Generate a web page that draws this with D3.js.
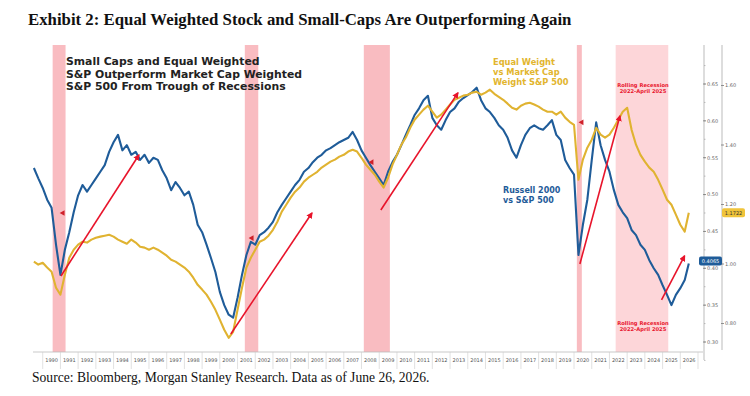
<!DOCTYPE html>
<html><head><meta charset="utf-8">
<script src="https://cdn.jsdelivr.net/npm/d3@7"></script>
<style>body{margin:0;background:#fff;} svg{display:block;}</style>
</head><body><svg id="c" width="750" height="396"></svg>
<script>
// ---- data: quarterly observations (decimal years), last point = June 26, 2026 ----
const quarterYears = d3.range(1989.5, 2026.3, 0.25).concat([2026.48]);
const russellVsSP = [
  0.536,0.522,
  0.509,0.493,0.482,0.432, 0.391,0.425,0.449,0.476, 0.499,0.513,0.504,0.513, 0.522,0.531,0.540,0.558,
  0.571,0.581,0.560,0.567, 0.554,0.558,0.547,0.554, 0.543,0.550,0.547,0.533, 0.522,0.506,0.517,0.509,
  0.499,0.504,0.486,0.459, 0.449,0.432,0.414,0.395, 0.368,0.350,0.337,0.333, 0.360,0.391,0.418,0.436,
  0.432,0.445,0.449,0.455, 0.463,0.476,0.486,0.495, 0.504,0.513,0.520,0.531, 0.536,0.544,0.550,0.554,
  0.560,0.563,0.567,0.571, 0.574,0.577,0.585,0.574, 0.560,0.550,0.540,0.531, 0.522,0.513,0.531,0.544,
  0.554,0.567,0.581,0.594, 0.608,0.617,0.628,0.634, 0.604,0.594,0.588,0.601, 0.612,0.617,0.626,0.631,
  0.635,0.639,0.645,0.628, 0.617,0.612,0.604,0.594, 0.588,0.577,0.560,0.550, 0.567,0.581,0.590,0.594,
  0.590,0.588,0.594,0.601, 0.581,0.574,0.547,0.536, 0.527,0.418,0.459,0.493, 0.547,0.598,0.567,0.547,
  0.531,0.506,0.486,0.476, 0.468,0.452,0.445,0.432, 0.425,0.411,0.400,0.391, 0.377,0.364,0.350,0.364,
  0.373,0.384,0.4065];
const equalVsCap = [
  1.008,0.998,
  1.004,0.988,0.974,0.920, 0.897,0.964,1.021,1.048, 1.065,1.075,1.072,1.082, 1.088,1.092,1.095,1.098,
  1.092,1.082,1.075,1.068, 1.082,1.072,1.058,1.055, 1.048,1.055,1.048,1.038, 1.028,1.014,1.008,0.998,
  0.988,0.974,0.954,0.930, 0.914,0.897,0.873,0.846, 0.813,0.779,0.752,0.772, 0.846,0.920,0.988,1.021,
  1.048,1.075,1.082,1.095, 1.115,1.142,1.176,1.199, 1.223,1.243,1.257,1.277, 1.290,1.300,1.310,1.324,
  1.334,1.344,1.351,1.361, 1.367,1.378,1.384,1.378, 1.357,1.334,1.317,1.300, 1.277,1.257,1.290,1.334,
  1.367,1.401,1.425,1.458, 1.485,1.502,1.519,1.532, 1.512,1.492,1.502,1.519, 1.536,1.552,1.559,1.566,
  1.569,1.576,1.579,1.569, 1.576,1.586,1.572,1.562, 1.552,1.539,1.525,1.519, 1.532,1.539,1.542,1.536,
  1.529,1.519,1.512,1.512, 1.502,1.512,1.492,1.478, 1.468,1.283,1.351,1.391, 1.418,1.458,1.435,1.425,
  1.435,1.458,1.485,1.512, 1.525,1.451,1.401,1.367, 1.344,1.324,1.310,1.283, 1.250,1.216,1.199,1.166,
  1.132,1.109,1.1722];
const recessionStart = [1990.56,2001.41,2008.13,2020.16,2022.35];
const recessionEnd   = [1991.29,2002.17,2009.60,2020.44,2025.32];
const yearLabels = d3.range(1990, 2027);
const leftTicks = [0.30,0.35,0.40,0.45,0.50,0.55,0.60,0.65];
const rightTicks = [0.80,1.00,1.20,1.40,1.60];
// arrows: start/end in (year, left-axis value)
const arrowStartYear = [1991.03,2000.62,2009.09,2020.33,2024.94];
const arrowStartVal  = [0.3896,0.3109,0.4790,0.4058,0.3570];
const arrowEndYear   = [1995.43,2005.20,2013.44,2022.59,2026.24];
const arrowEndVal    = [0.5537,0.4750,0.6379,0.6066,0.4167];
const markerYears = [1991.14,2001.81,2008.58,2020.44];
const markerVals  = [0.475,0.441,0.544,0.598];

const svg = d3.select('#c');
const dy = y => { const yr = Math.floor(y); const a = new Date(yr,0,1), b = new Date(yr+1,0,1); return new Date(+a + (y-yr)*(b-a)); };
const plotTop = 45, plotBottom = 352, plotLeft = 33, plotRight = 698;
const x = d3.scaleTime().domain([dy(1989.45), dy(2027)]).range([plotLeft, plotRight]);
const yL = d3.scaleLinear().domain([0.30,0.65]).range([342,84]);
const yR = d3.scaleLinear().domain([0.80,1.60]).range([323.5,85.5]);

// title + source
svg.append('text').attr('x',28).attr('y',25).attr('font-family','Liberation Serif').attr('font-weight','bold')
  .attr('font-size',16.8).attr('fill','#111').text('Exhibit 2: Equal Weighted Stock and Small-Caps Are Outperforming Again');
svg.append('text').attr('x',32).attr('y',382).attr('font-family','Liberation Serif')
  .attr('font-size',13.6).attr('fill','#111').text('Source: Bloomberg, Morgan Stanley Research. Data as of June 26, 2026.');

// recession bands
const g = svg.append('g');
recessionStart.forEach((s,i) => {
  g.append('rect').attr('x',x(dy(s))).attr('y',plotTop).attr('width',x(dy(recessionEnd[i]))-x(dy(s))).attr('height',plotBottom-plotTop)
    .attr('fill', i===4 ? '#fdd6d9' : '#f9bcc1');
});

// x axis
g.append('line').attr('x1',plotLeft).attr('x2',703).attr('y1',plotBottom).attr('y2',plotBottom).attr('stroke','#bbb').attr('stroke-width',0.8);
yearLabels.forEach(yr => {
  g.append('line').attr('x1',x(dy(yr))).attr('x2',x(dy(yr))).attr('y1',plotBottom).attr('y2',369).attr('stroke','#ccc').attr('stroke-width',0.6);
  g.append('text').attr('x',(x(dy(yr))+x(dy(yr+1)))/2).attr('y',362).attr('text-anchor','middle')
    .attr('font-family','DejaVu Sans').attr('font-size',5).attr('fill','#555').text(yr);
});
g.append('line').attr('x1',x(dy(2027))).attr('x2',x(dy(2027))).attr('y1',plotBottom).attr('y2',369).attr('stroke','#ccc').attr('stroke-width',0.6);

// right axes
const ax1 = 704, ax2 = 722;
g.append('line').attr('x1',ax1).attr('x2',ax1).attr('y1',plotTop).attr('y2',360).attr('stroke','#aaa').attr('stroke-width',0.8);
g.append('line').attr('x1',ax2).attr('x2',ax2).attr('y1',plotTop).attr('y2',350).attr('stroke','#aaa').attr('stroke-width',0.8);
d3.range(0.275,0.70,0.025).forEach(v => {
  g.append('line').attr('x1',ax1).attr('x2',ax1+1.5).attr('y1',yL(v)).attr('y2',yL(v)).attr('stroke','#999').attr('stroke-width',0.6);
});
leftTicks.forEach(v => {
  g.append('line').attr('x1',ax1-1).attr('x2',ax1+2).attr('y1',yL(v)).attr('y2',yL(v)).attr('stroke','#777').attr('stroke-width',0.8);
  g.append('text').attr('x',ax1+3).attr('y',yL(v)+1.8).attr('font-family','DejaVu Sans').attr('font-size',5).attr('fill','#666').text(v.toFixed(2));
});
rightTicks.forEach(v => {
  g.append('line').attr('x1',ax2-1).attr('x2',ax2+2).attr('y1',yR(v)).attr('y2',yR(v)).attr('stroke','#777').attr('stroke-width',0.8);
  g.append('text').attr('x',ax2+3).attr('y',yR(v)+1.8).attr('font-family','DejaVu Sans').attr('font-size',5).attr('fill','#666').text(v.toFixed(2));
});

// lines
const lineL = d3.line().x((d,i)=>x(dy(quarterYears[i]))).y(d=>yL(d));
const lineR = d3.line().x((d,i)=>x(dy(quarterYears[i]))).y(d=>yR(d));
g.append('path').attr('d',lineL(russellVsSP)).attr('fill','none').attr('stroke','#1f5c99').attr('stroke-width',2.1).attr('stroke-linejoin','round');
g.append('path').attr('d',lineR(equalVsCap)).attr('fill','none').attr('stroke','#e0b331').attr('stroke-width',2.1).attr('stroke-linejoin','round');

// arrows
const defs = svg.append('defs');
defs.append('marker').attr('id','ah').attr('viewBox','0 0 10 10').attr('refX',8).attr('refY',5)
  .attr('markerWidth',4).attr('markerHeight',4).attr('orient','auto')
  .append('path').attr('d','M0,0L10,5L0,10z').attr('fill','#e8142b');
arrowStartYear.forEach((s,i) => {
  g.append('line').attr('x1',x(dy(s))).attr('y1',yL(arrowStartVal[i])).attr('x2',x(dy(arrowEndYear[i]))).attr('y2',yL(arrowEndVal[i]))
    .attr('stroke','#e8142b').attr('stroke-width',1.6).attr('marker-end','url(#ah)');
});
markerYears.forEach((s,i) => {
  g.append('path').attr('d',d3.symbol(d3.symbolTriangle,14)()).attr('transform',`translate(${x(dy(s))},${yL(markerVals[i])}) rotate(-90)`).attr('fill','#d0202a');
});

// value labels
g.append('rect').attr('x',722).attr('y',yR(1.1722)-4.5).attr('width',23).attr('height',9).attr('rx',2).attr('fill','#f0c43a');
g.append('text').attr('x',733.5).attr('y',yR(1.1722)+1.8).attr('text-anchor','middle').attr('font-family','DejaVu Sans').attr('font-size',5).attr('fill','#333').text('1.1722');
g.append('rect').attr('x',699).attr('y',yL(0.4065)-7).attr('width',23).attr('height',9).attr('rx',2).attr('fill','#1f5c99');
g.append('text').attr('x',710.5).attr('y',yL(0.4065)-0.7).attr('text-anchor','middle').attr('font-family','DejaVu Sans').attr('font-size',5).attr('fill','#fff').text('0.4065');

// annotations
const t1 = g.append('text').attr('font-family','DejaVu Sans').attr('font-weight','bold').attr('font-size',10.85).attr('fill','#222');
['Small Caps and Equal Weighted','S&P Outperform Market Cap Weighted','S&P 500 From Trough of Recessions'].forEach((s,i)=>
  t1.append('tspan').attr('x',66).attr('y',65+i*12.6).text(s));
const t2 = g.append('text').attr('font-family','DejaVu Sans').attr('font-weight','bold').attr('font-size',8.3).attr('fill','#e2b52e');
['Equal Weight','vs Market Cap','Weight S&P 500'].forEach((s,i)=> t2.append('tspan').attr('x',493).attr('y',65+i*10).text(s));
const t3 = g.append('text').attr('font-family','DejaVu Sans').attr('font-weight','bold').attr('font-size',8).attr('fill','#1f5c99');
['Russell 2000','vs S&P 500'].forEach((s,i)=> t3.append('tspan').attr('x',503).attr('y',193+i*10).text(s));
[[87,93],[325,331]].forEach(([a,b])=>{
  g.append('text').attr('x',643).attr('y',a).attr('text-anchor','middle').attr('font-family','DejaVu Sans').attr('font-weight','bold').attr('font-size',5.2).attr('fill','#e8142b').text('Rolling Recession');
  g.append('text').attr('x',643).attr('y',b).attr('text-anchor','middle').attr('font-family','DejaVu Sans').attr('font-weight','bold').attr('font-size',5.2).attr('fill','#e8142b').text('2022-April 2025');
});
</script></body></html>
